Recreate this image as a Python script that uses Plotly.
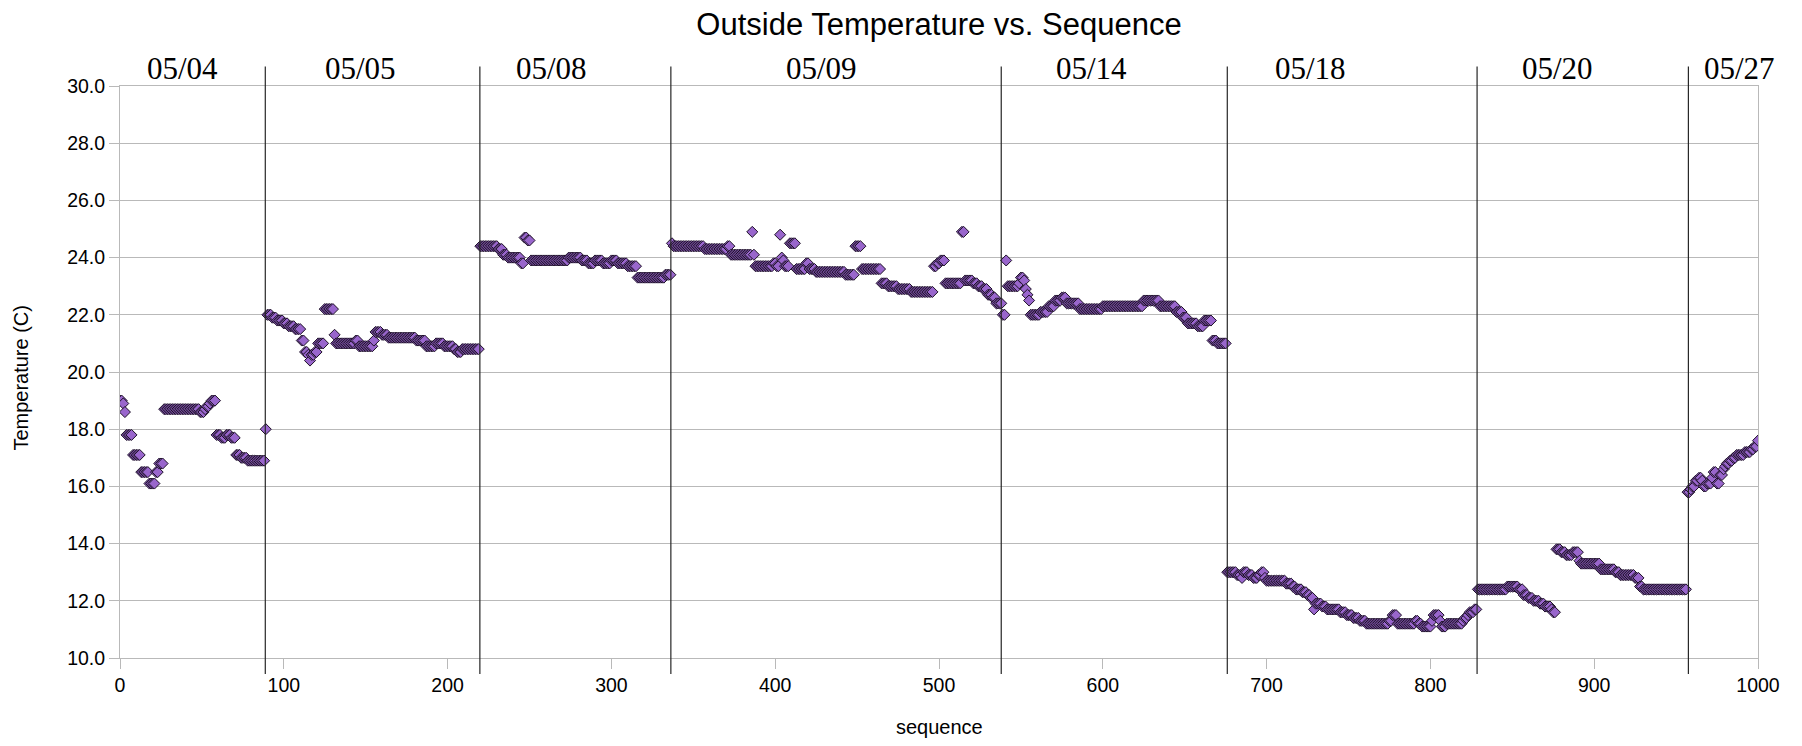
import numpy as np
import plotly.graph_objects as go

# ---------------- data ----------------
day_labels = ["05/04", "05/05", "05/08", "05/09", "05/14", "05/18", "05/20", "05/27"]
day_first_seq = [0, 90, 220, 337, 538, 676, 829, 957]
boundary_seq = [88.7, 219.7, 336.3, 538, 676, 828.5, 957.5]
label_seq = [38.4, 147, 263.6, 428, 593, 726.5, 877.5, 988.6]

# temperature levels and how many consecutive samples stay at each level
temps_0504 = [19.0, 18.9, 18.6, 17.8, 17.1, 16.5, 16.1, 16.5, 16.8, 18.7, 18.6, 18.7,
              18.8, 18.9, 19.0, 17.8, 17.7, 17.8, 17.7, 17.1, 17.0, 16.9, 18.0]
runs_0504 = [2, 1, 1, 4, 5, 5, 4, 2, 3, 22, 3, 1, 2, 1, 3, 3, 3, 3, 3, 3, 4, 11, 1]

temps_0505 = [22.0, 21.9, 21.8, 21.7, 21.6, 21.5, 21.1, 20.7, 20.6, 20.4, 20.6, 20.7,
              21.0, 22.2, 21.3, 21.0, 21.1, 20.9, 21.1, 21.4, 21.3, 21.2, 21.1, 20.9,
              21.0, 20.9, 20.8, 20.7, 20.8]
runs_0505 = [3, 3, 4, 3, 4, 4, 2, 2, 1, 1, 2, 2, 4, 6, 1, 12, 2, 9, 1, 4, 4, 17, 6, 6,
             5, 6, 2, 3, 11]

temps_0508 = [24.4, 24.3, 24.1, 24.0, 23.8, 24.7, 24.6, 23.9, 24.0, 23.9, 23.8, 23.9,
              23.8, 23.9, 23.8, 23.7, 23.3, 23.4]
runs_0508 = [11, 3, 3, 8, 2, 2, 2, 23, 8, 4, 4, 5, 5, 4, 6, 6, 17, 4]

temps_0509 = [24.5, 24.4, 24.3, 24.4, 24.1, 24.9, 24.1, 23.7, 23.8, 23.7, 24.8, 24.0,
              23.9, 23.7, 24.5, 23.6, 23.8, 23.6, 23.5, 23.4, 24.4, 23.6, 23.1, 23.0,
              22.9, 22.8, 23.7, 23.8, 23.9, 23.1, 24.9, 23.2, 23.1, 23.0, 22.9, 22.7,
              22.6, 22.4]
runs_0509 = [1, 19, 14, 2, 13, 1, 1, 11, 2, 2, 1, 1, 1, 3, 4, 6, 2, 4, 18, 6, 4, 12,
             4, 6, 8, 14, 2, 2, 3, 10, 2, 5, 3, 3, 3, 3, 2, 3]

temps_0514 = [22.4, 22.0, 23.9, 23.0, 23.1, 23.3, 23.2, 22.9, 22.7, 22.5, 22.0, 22.1,
              22.3, 22.5, 22.6, 22.4, 22.2, 22.3, 22.5, 22.3, 22.1, 21.9, 21.7, 21.6,
              21.8, 21.1, 21.0]
runs_0514 = [1, 2, 1, 7, 1, 2, 1, 1, 1, 1, 6, 5, 4, 4, 3, 8, 14, 25, 10, 10, 4, 3, 6,
             4, 5, 3, 6]

temps_0518 = [13.0, 12.9, 12.8, 13.0, 12.9, 12.8, 12.9, 13.0, 12.8, 12.7, 12.6, 12.5,
              12.4, 12.3, 12.2, 12.1, 11.7, 11.9, 11.8, 11.7, 11.6, 11.5, 11.4, 11.3,
              11.2, 11.3, 11.5, 11.2, 11.3, 11.2, 11.1, 11.3, 11.5, 11.3, 11.1, 11.2,
              11.3, 11.4, 11.5, 11.6, 11.7]
runs_0518 = [6, 3, 1, 3, 3, 3, 2, 2, 1, 12, 4, 2, 4, 3, 2, 2, 1, 4, 3, 8, 4, 4, 4, 4,
             14, 2, 3, 11, 2, 2, 6, 1, 4, 1, 3, 10, 1, 2, 1, 3, 2]

temps_0520 = [12.4, 12.5, 12.4, 12.2, 12.1, 12.0, 11.9, 11.8, 11.7, 11.6, 13.8, 13.7,
              13.6, 13.7, 13.4, 13.3, 13.1, 13.0, 12.9, 12.8, 12.5, 12.4]
runs_0520 = [18, 7, 3, 3, 3, 4, 3, 4, 1, 2, 3, 3, 4, 4, 1, 12, 9, 3, 9, 3, 2, 27]

temps_0527 = [15.8, 15.9, 16.0, 16.2, 16.3, 16.2, 16.0, 16.1, 16.3, 16.5, 16.1, 16.4,
              16.6, 16.7, 16.8, 16.9, 17.0, 17.1, 17.2, 17.3, 17.4, 17.6]
runs_0527 = [2, 1, 2, 2, 2, 1, 2, 3, 1, 2, 2, 2, 1, 1, 2, 2, 2, 5, 4, 2, 2, 1]

day_series = [(temps_0504, runs_0504), (temps_0505, runs_0505), (temps_0508, runs_0508),
              (temps_0509, runs_0509), (temps_0514, runs_0514), (temps_0518, runs_0518),
              (temps_0520, runs_0520), (temps_0527, runs_0527)]

seq, temp = [], []
for first, (levels, runs) in zip(day_first_seq, day_series):
    vals = np.repeat(levels, runs)
    seq.extend((first + np.arange(len(vals))).tolist())
    temp.extend(vals.tolist())

# ---------------- figure ----------------
SANS = "Liberation Sans, Arial, sans-serif"
SERIF = "Liberation Serif, Times New Roman, serif"
GRID = "#b9b9b9"

fig = go.Figure()
fig.add_trace(go.Scatter(
    x=seq, y=temp, mode="markers",
    marker=dict(symbol="diamond", size=8.5, color="#9966cc",
                line=dict(color="#1c1026", width=1)),
    showlegend=False, hoverinfo="x+y",
))

shapes = []
for b in boundary_seq:
    shapes.append(dict(type="line", xref="x", yref="paper", x0=b, x1=b,
                       y0=-0.028, y1=1.034, line=dict(color="#262626", width=1.2)))

annotations = []
for lab, xs in zip(day_labels, label_seq):
    annotations.append(dict(text=lab, x=xs, xref="x", y=1.0306, yref="paper",
                            xanchor="center", yanchor="middle", showarrow=False,
                            font=dict(family=SERIF, size=31, color="black")))
annotations.append(dict(text="sequence", x=0.5, xref="paper", y=-0.1208, yref="paper",
                        xanchor="center", yanchor="middle", showarrow=False,
                        font=dict(family=SANS, size=20, color="black")))
annotations.append(dict(text="Temperature (C)", x=-0.0605, xref="paper", y=0.49,
                        yref="paper", xanchor="center", yanchor="middle",
                        textangle=-90, showarrow=False,
                        font=dict(family=SANS, size=20, color="black")))

fig.update_layout(
    width=1802, height=746,
    margin=dict(l=119.5, r=43.5, t=85.7, b=88),
    paper_bgcolor="white", plot_bgcolor="white",
    title=dict(text="Outside Temperature vs. Sequence", x=0.5, xref="paper",
               xanchor="center", y=1 - 24 / 746, yref="container", yanchor="middle",
               font=dict(family=SANS, size=31, color="black")),
    xaxis=dict(range=[0, 1000], dtick=100, tick0=0, showgrid=False, zeroline=False,
               showline=True, linecolor=GRID, linewidth=1, mirror=True,
               ticks="outside", ticklen=10, tickcolor=GRID, tickwidth=1,
               tickfont=dict(family=SANS, size=19.5, color="black")),
    yaxis=dict(range=[10, 30], dtick=2, tick0=10, tickformat=".1f", showgrid=True,
               gridcolor=GRID, gridwidth=1, zeroline=False,
               showline=True, linecolor=GRID, linewidth=1, mirror=True,
               ticks="outside", ticklen=10, tickcolor=GRID, tickwidth=1,
               tickfont=dict(family=SANS, size=19.5, color="black")),
    shapes=shapes, annotations=annotations,
)

fig.write_html("out.html")
